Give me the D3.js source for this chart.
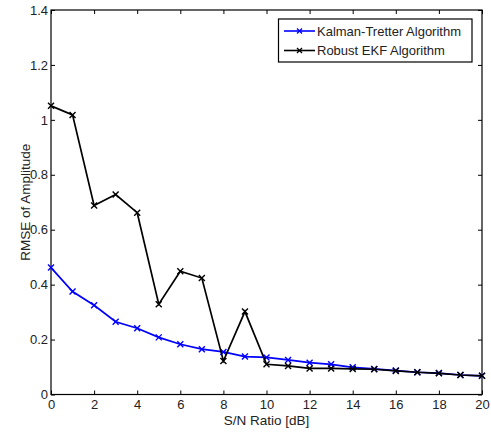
<!DOCTYPE html>
<html><head><meta charset="utf-8">
<script src="https://cdn.jsdelivr.net/npm/d3@7"></script>
<style>body{margin:0;background:#fff;} text{font-family:Arial,"Liberation Sans",sans-serif;}</style>
</head><body>
<svg id="c" width="491" height="432"></svg>
<script>
const snr = d3.range(0, 21);
const kalmanTretter = [0.462,0.375,0.325,0.265,0.241,0.208,0.183,0.165,0.155,0.138,0.135,0.126,0.116,0.110,0.099,0.093,0.087,0.081,0.078,0.071,0.068];
const robustEKF = [1.051,1.018,0.688,0.728,0.662,0.329,0.449,0.424,0.122,0.302,0.110,0.104,0.095,0.095,0.093,0.092,0.086,0.081,0.077,0.071,0.068];
const xTicks = [0,2,4,6,8,10,12,14,16,18,20];
const yTicks = [0,0.2,0.4,0.6,0.8,1,1.2,1.4];
const seriesNames = ["Kalman-Tretter Algorithm","Robust EKF Algorithm"];
const seriesColors = ["#0000ff","#000000"];

const L=51, R=482, T=10, B=394.5;
const svg = d3.select("#c");
const x = d3.scaleLinear().domain([0,20]).range([L,R]);
const y = d3.scaleLinear().domain([0,1.4]).range([B,T]);

svg.append("rect").attr("x",L).attr("y",T).attr("width",R-L).attr("height",B-T)
  .attr("fill","#fff").attr("stroke","#000").attr("stroke-width",1.2);

const fmt = d => String(d);
const bx = svg.append("g").attr("transform",`translate(0,${B})`)
  .call(d3.axisBottom(x).tickValues(xTicks).tickSizeInner(-4).tickSizeOuter(0).tickPadding(5).tickFormat(fmt));
const tx = svg.append("g").attr("transform",`translate(0,${T})`)
  .call(d3.axisTop(x).tickValues(xTicks).tickSizeInner(-4).tickSizeOuter(0).tickFormat(""));
const ly = svg.append("g").attr("transform",`translate(${L},0)`)
  .call(d3.axisLeft(y).tickValues(yTicks).tickSizeInner(-4).tickSizeOuter(0).tickPadding(3).tickFormat(fmt));
const ry = svg.append("g").attr("transform",`translate(${R},0)`)
  .call(d3.axisRight(y).tickValues(yTicks).tickSizeInner(-4).tickSizeOuter(0).tickFormat(""));
[bx,tx,ly,ry].forEach(g=>{
  g.select(".domain").remove();
  g.selectAll("line").attr("stroke","#000");
  g.selectAll("text").attr("font-size",13).attr("fill","#222").attr("font-family","Arial, 'Liberation Sans', sans-serif");
});

const line = d3.line().x((d,i)=>x(snr[i])).y(d=>y(d));
const all = [kalmanTretter, robustEKF];
[0,1].forEach(k=>{
  const data = all[k];
  svg.append("path").datum(data).attr("d",line).attr("fill","none")
    .attr("stroke",seriesColors[k]).attr("stroke-width",1.7);
  const s=3;
  svg.append("g").selectAll("path").data(data).join("path")
    .attr("d",(d,i)=>{const cx=x(snr[i]), cy=y(d);
      return `M${cx-s},${cy-s}L${cx+s},${cy+s}M${cx-s},${cy+s}L${cx+s},${cy-s}`;})
    .attr("stroke",seriesColors[k]).attr("stroke-width",1.4).attr("fill","none");
});

// axis labels
svg.append("text").attr("x",(L+R)/2).attr("y",425).attr("text-anchor","middle")
  .attr("font-size",13.5).attr("fill","#222").text("S/N Ratio [dB]");
svg.append("text").attr("transform",`translate(30,${(T+B)/2}) rotate(-90)`).attr("text-anchor","middle")
  .attr("font-size",13.5).attr("fill","#222").text("RMSE of Amplitude");

// legend
const lg = svg.append("g");
lg.append("rect").attr("x",278.5).attr("y",19).attr("width",193.5).attr("height",43)
  .attr("fill","#fff").attr("stroke","#000").attr("stroke-width",1.2);
const rows=[31,50.5];
seriesNames.forEach((n,k)=>{
  const yy=rows[k];
  lg.append("line").attr("x1",284).attr("x2",315).attr("y1",yy).attr("y2",yy)
    .attr("stroke",seriesColors[k]).attr("stroke-width",1.6);
  const cx=299.5, s=2.5;
  lg.append("path").attr("d",`M${cx-s},${yy-s}L${cx+s},${yy+s}M${cx-s},${yy+s}L${cx+s},${yy-s}`)
    .attr("stroke",seriesColors[k]).attr("stroke-width",1.3);
  lg.append("text").attr("x",317).attr("y",yy+4.8).attr("font-size",13).attr("fill","#222").text(n);
});
</script>
</body></html>
